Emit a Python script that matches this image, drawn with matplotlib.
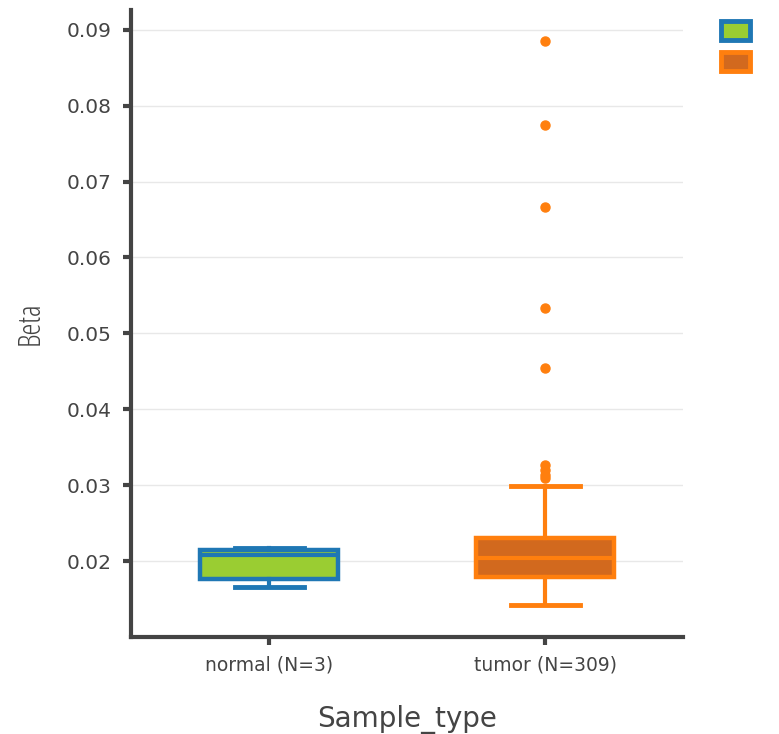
import matplotlib
matplotlib.use("Agg")
import matplotlib.pyplot as plt
from matplotlib.patches import Patch

# =======================
# DATA
# =======================
categories = ["normal", "tumor"]
tick_labels = ["normal (N=3)", "tumor (N=309)"]
whislo = [0.0166, 0.0142]
q1 = [0.0176, 0.0179]
med = [0.0208, 0.0204]
q3 = [0.0214, 0.0230]
whishi = [0.0217, 0.0299]
fliers = [
    [],
    [0.0885, 0.0775, 0.0666, 0.0534, 0.0455, 0.0327, 0.0320, 0.0314, 0.0310],
]
edge_colors = ["#1f77b4", "#ff7f0e"]
fill_colors = ["#9acd32", "#d2691e"]

TXT = "#444444"


def main():
    plt.rcParams["font.family"] = ["DejaVu Sans"]
    fig = plt.figure(figsize=(7.79, 7.34), dpi=100)
    ax = fig.add_axes([131 / 779, 97 / 734, 552 / 779, 627 / 734])

    stats = []
    for i in range(len(categories)):
        stats.append({
            "label": tick_labels[i],
            "whislo": whislo[i], "q1": q1[i], "med": med[i],
            "q3": q3[i], "whishi": whishi[i], "fliers": fliers[i],
        })

    pos = list(range(len(categories)))
    bp = ax.bxp(stats, positions=pos, widths=0.5, patch_artist=True,
                showfliers=True, capwidths=0.25, zorder=3)
    for i in range(len(categories)):
        ec, fc = edge_colors[i], fill_colors[i]
        bp["boxes"][i].set(facecolor=fc, edgecolor=ec, linewidth=3.2)
        bp["medians"][i].set(color=ec, linewidth=3)
        for w in bp["whiskers"][2 * i:2 * i + 2]:
            w.set(color=ec, linewidth=3)
        for c in bp["caps"][2 * i:2 * i + 2]:
            c.set(color=ec, linewidth=3.5)
        bp["fliers"][i].set(marker="o", markerfacecolor=ec, markeredgecolor=ec,
                            markersize=6.5, linestyle="none")

    ax.set_xlim(-0.5, 1.5)
    ax.set_ylim(0.0100, 0.0926)
    ax.set_yticks([0.02, 0.03, 0.04, 0.05, 0.06, 0.07, 0.08, 0.09])
    ax.set_yticklabels([f"{v:.2f}" for v in ax.get_yticks()])
    ax.set_xticks(pos)
    ax.set_xticklabels(tick_labels)
    ax.yaxis.grid(True, color="#e8e8e8", linewidth=1)
    ax.set_axisbelow(True)

    for s in ["top", "right"]:
        ax.spines[s].set_visible(False)
    for s in ["left", "bottom"]:
        ax.spines[s].set_color("#444444")
        ax.spines[s].set_linewidth(3)
    ax.tick_params(axis="both", colors="#444444", width=3, length=6,
                   labelcolor=TXT)
    ax.tick_params(axis="y", labelsize=14.5, pad=8)
    ax.tick_params(axis="x", labelsize=13.5, pad=7)

    ax.set_xlabel("Sample_type", fontsize=20, color=TXT, labelpad=22)
    ax.set_ylabel("Beta", fontsize=22, color=TXT, labelpad=14,
                  family=["Open Sans"], fontstretch="condensed")

    # legend labels fall outside the figure in the reference, only swatches show
    handles = [Patch(facecolor=fill_colors[i], edgecolor=edge_colors[i],
                     linewidth=3.5) for i in range(len(categories))]
    fig.legend(handles, ["", ""], loc="upper left",
               bbox_to_anchor=(706 / 779, 1 - 6 / 734), frameon=False,
               handlelength=1.75, handleheight=1.4, handletextpad=0.5,
               labelspacing=0.7, fontsize=12)

    fig.savefig("out.png", dpi=100)
    plt.close(fig)


if __name__ == "__main__":
    main()
